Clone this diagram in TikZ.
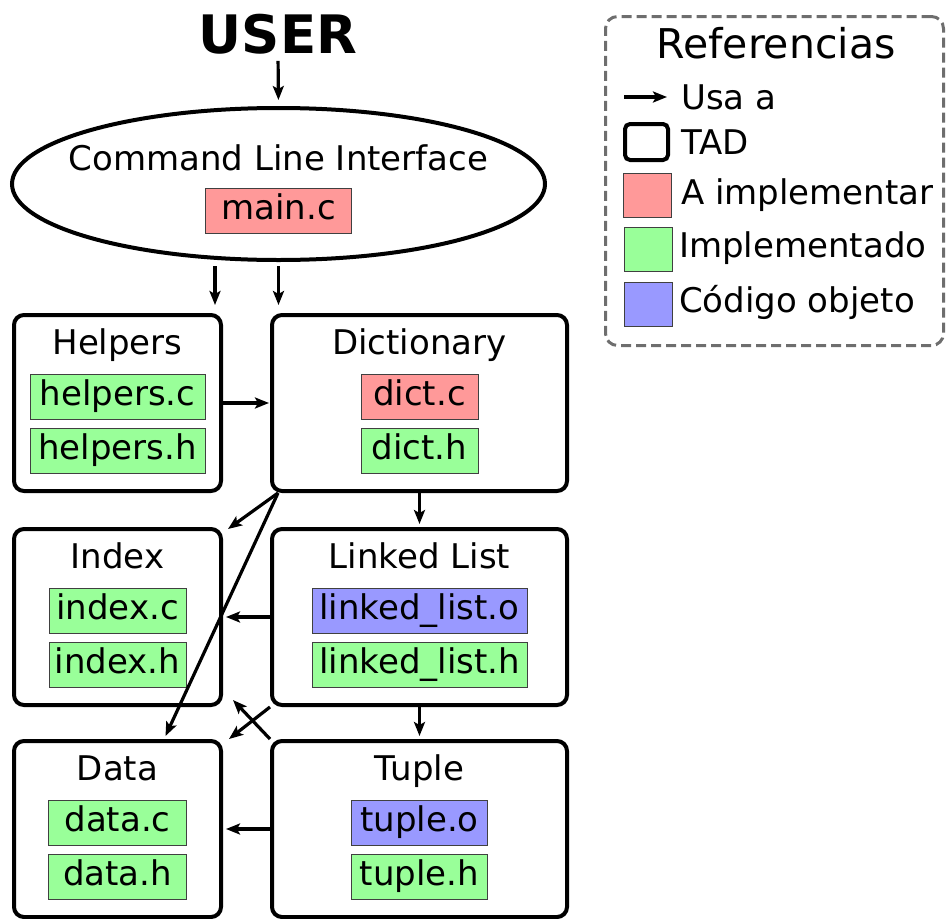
\documentclass[tikz,border=0pt]{standalone}
\usepackage{fontspec}
\setmainfont{DejaVu Sans}
\usetikzlibrary{arrows.meta,positioning,shapes.geometric}

\definecolor{toimpl}{HTML}{FF9999}
\definecolor{impl}{HTML}{99FF99}
\definecolor{objcode}{HTML}{9999FF}
\definecolor{legendgray}{HTML}{6E6E6E}

\begin{document}
\begin{tikzpicture}[x=1pt,y=-1pt,
    every node/.style={font=\fontsize{34pt}{40pt}\selectfont},
    tad node/.style={draw,line width=4pt,rounded corners=10pt,minimum height=176pt},
    title node/.style={inner sep=0pt,text height=25pt,text depth=8pt},
    file node/.style={draw=black!75,line width=1pt,inner xsep=0pt,inner ysep=6pt,
                      text height=25pt,text depth=8pt},
    key node/.style={draw=black!75,line width=1pt,minimum width=48pt,minimum height=44pt},
    uses/.style={-{Stealth[length=14pt,width=11pt,inset=3pt]},line width=3.2pt,shorten >=3pt}]
  \useasboundingbox (0,0) rectangle (947,918);

  % user and command line interface
  \node[font=\fontsize{53pt}{60pt}\selectfont\bfseries,inner sep=0pt,anchor=base] (user) at (278,53) {USER};
  \node[ellipse,draw,line width=4pt,minimum width=533pt,minimum height=152pt] (cli) at (278.5,184) {};
  \node[title node,anchor=base] (clititle) at (278.5,170) {Command Line Interface};
  \node[file node,fill=toimpl,minimum width=146pt,below=10pt of clititle] (mainc) {main.c};

  % TADs
  \node[tad node,minimum width=207pt] (helpers) at (117.5,403) {};
  \node[tad node,minimum width=295pt,right=47pt of helpers] (dict) {};
  \node[tad node,minimum width=207pt,below=34pt of helpers] (index) {};
  \node[tad node,minimum width=295pt,below=34pt of dict] (llist) {};
  \node[tad node,minimum width=207pt,below=32pt of index] (data) {};
  \node[tad node,minimum width=295pt,below=32pt of llist] (tuple) {};

  \node[title node,below=16pt of helpers.north] (helperstitle) {Helpers};
  \node[file node,fill=impl,minimum width=175pt,below=12pt of helperstitle] (helpersc) {helpers.c};
  \node[file node,fill=impl,minimum width=175pt,below=8pt of helpersc] (helpersh) {helpers.h};

  \node[title node,below=16pt of dict.north] (dicttitle) {Dictionary};
  \node[file node,fill=toimpl,minimum width=117pt,below=12pt of dicttitle] (dictc) {dict.c};
  \node[file node,fill=impl,minimum width=117pt,below=8pt of dictc] (dicth) {dict.h};

  \node[title node,below=16pt of index.north] (indextitle) {Index};
  \node[file node,fill=impl,minimum width=137pt,below=12pt of indextitle] (indexc) {index.c};
  \node[file node,fill=impl,minimum width=137pt,below=8pt of indexc] (indexh) {index.h};

  \node[title node,below=16pt of llist.north] (llisttitle) {Linked List};
  \node[file node,fill=objcode,minimum width=215pt,below=12pt of llisttitle] (llisto) {linked\_list.o};
  \node[file node,fill=impl,minimum width=215pt,below=8pt of llisto] (llisth) {linked\_list.h};

  \node[title node,below=16pt of data.north] (datatitle) {Data};
  \node[file node,fill=impl,minimum width=138pt,below=12pt of datatitle] (datac) {data.c};
  \node[file node,fill=impl,minimum width=138pt,below=8pt of datac] (datah) {data.h};

  \node[title node,below=16pt of tuple.north] (tupletitle) {Tuple};
  \node[file node,fill=objcode,minimum width=136pt,below=12pt of tupletitle] (tupleo) {tuple.o};
  \node[file node,fill=impl,minimum width=136pt,below=8pt of tupleo] (tupleh) {tuple.h};

  % uses
  \draw[uses,shorten <=7pt,shorten >=6pt] (user.south) -- (cli.north);
  \coordinate (helpersin) at ([xshift=-8pt]helpers.north east);
  \draw[uses,shorten <=4pt,shorten >=8pt] (cli.south -| helpersin) -- (helpersin);
  \draw[uses,shorten <=4pt,shorten >=8pt] (cli.south) -- (cli.south |- dict.north);
  \draw[uses,shorten >=1pt] (helpers) -- (dict);
  \draw[uses] (dict) -- (llist);
  \draw[uses] (llist) -- (tuple);
  \draw[uses] (llist) -- (index);
  \draw[uses] (tuple) -- (data);
  \coordinate (dictout) at ([xshift=8pt]dict.south west);
  \coordinate (indextop) at ([shift={(5,2)}]index.north east);
  \coordinate (datatop) at ([shift={(48,-3)}]data.north);
  \coordinate (datacorner) at ([shift={(6,0)}]data.north east);
  \coordinate (indexcorner) at ([shift={(10,-7)}]index.south east);
  \draw[uses,shorten >=0pt] (dictout) -- (indextop);
  \draw[uses,shorten >=0pt] (dictout) -- (datatop);
  \draw[uses,shorten >=0pt] (llist.south west) -- (datacorner);
  \draw[uses,shorten >=0pt] (tuple.north west) -- (indexcorner);

  % references
  \node[draw=legendgray,line width=3pt,dash pattern=on 10pt off 5pt,rounded corners=12pt,
        minimum width=338pt,minimum height=329pt] (refs) at (774.5,181) {};
  \node[font=\fontsize{41pt}{47pt}\selectfont,inner sep=0pt,anchor=base] (refstitle) at (776,58) {Referencias};
  \node[title node,anchor=base west] (usa) at (681,109) {Usa a};
  \coordinate (usatail) at (624,97);
  \draw[uses,shorten >=14pt] (usatail) -- (usatail -| usa.west);
  \node[draw,line width=4pt,rounded corners=5pt,minimum width=43pt,minimum height=36pt] (tadkey) at (646.5,142) {};
  \node[title node,anchor=base west] (tadlabel) at (681,154) {TAD};
  \node[key node,fill=toimpl] (toimplkey) at (647,195) {};
  \node[title node,anchor=base west] (toimpllabel) at (681,204) {A implementar};
  \node[key node,fill=impl] (implkey) at (648,249.5) {};
  \node[title node,anchor=base west] (impllabel) at (679,257) {Implementado};
  \node[key node,fill=objcode] (objcodekey) at (648,304) {};
  \node[title node,anchor=base west] (objcodelabel) at (679,312) {Código objeto};
\end{tikzpicture}
\end{document}
